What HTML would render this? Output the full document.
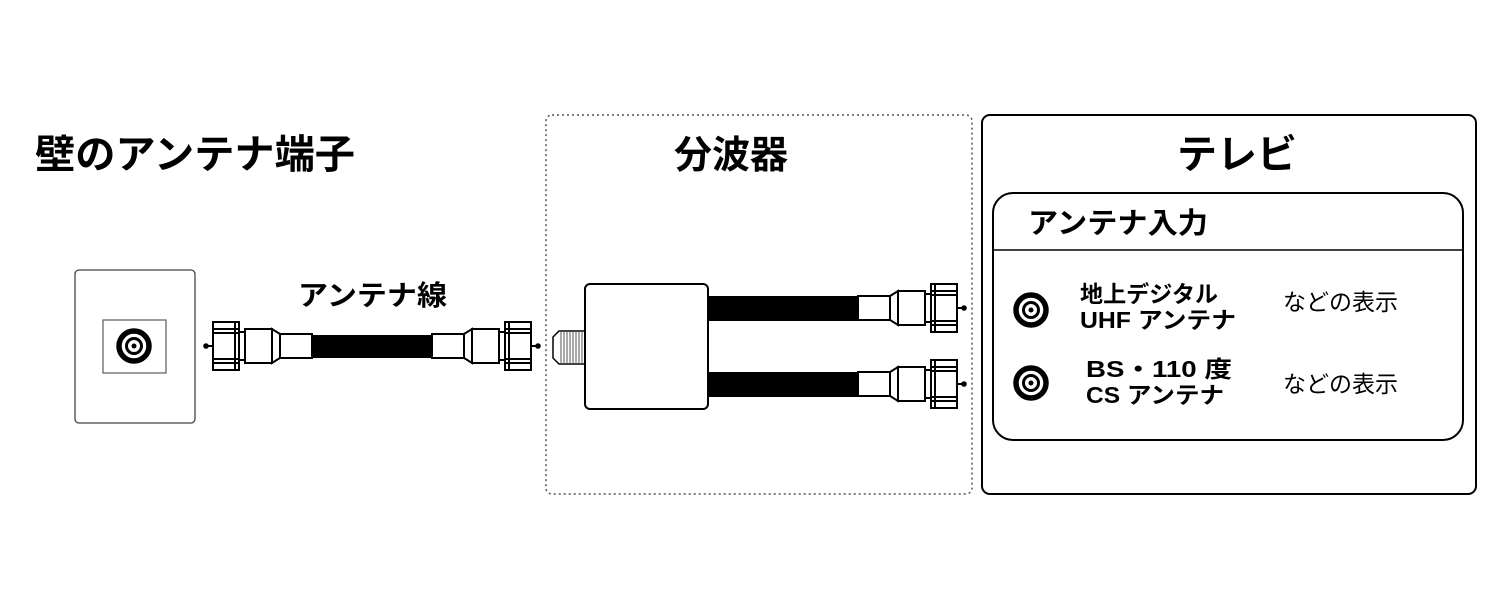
<!DOCTYPE html>
<html><head><meta charset="utf-8"><style>
html,body{margin:0;padding:0;background:#fff;width:1500px;height:600px;overflow:hidden}
svg{display:block}
text{font-family:"Liberation Sans","Noto Sans CJK JP",sans-serif;fill:#000}
.b{font-weight:bold}
</style></head><body>
<svg width="1500" height="600" viewBox="0 0 1500 600" xmlns="http://www.w3.org/2000/svg">
<defs>
<g id="conn" stroke="#000" stroke-width="2" fill="#fff">
  <rect x="0" y="-12" width="32" height="24"/>
  <polygon points="32,-12 40,-17 40,17 32,12"/>
  <rect x="40" y="-17" width="27" height="34"/>
  <rect x="67" y="-14" width="6" height="28"/>
  <rect x="73" y="-24" width="26" height="48"/>
  <line x1="73" y1="-17" x2="99" y2="-17"/>
  <line x1="73" y1="-13" x2="99" y2="-13"/>
  <line x1="73" y1="13" x2="99" y2="13"/>
  <line x1="73" y1="17" x2="99" y2="17"/>
  <line x1="77" y1="-24" x2="77" y2="24"/>
  <line x1="99" y1="0" x2="106" y2="0"/>
  <circle cx="106" cy="0" r="1.8" fill="#000"/>
</g>
<g id="coax">
  <circle r="15" fill="none" stroke="#000" stroke-width="5.5"/>
  <circle r="7.5" fill="none" stroke="#000" stroke-width="3"/>
  <circle r="2.5" fill="#000"/>
</g>
</defs>

<text x="35" y="168" font-size="40" class="b" textLength="320" lengthAdjust="spacingAndGlyphs">壁のアンテナ端子</text>
<text x="731" y="168" font-size="38" class="b" text-anchor="middle">分波器</text>
<text x="1237" y="168" font-size="40" class="b" text-anchor="middle">テレビ</text>

<!-- wall plate -->
<rect x="75" y="270" width="120" height="153" rx="4" fill="#fff" stroke="#444" stroke-width="1.3"/>
<rect x="103" y="320" width="63" height="53" fill="#fff" stroke="#666" stroke-width="1.3"/>
<use href="#coax" x="134" y="346"/>

<!-- antenna cable -->
<text x="298" y="305" font-size="28" class="b" textLength="149" lengthAdjust="spacingAndGlyphs">アンテナ線</text>
<rect x="312" y="335" width="120" height="23" fill="#000"/>
<use href="#conn" transform="translate(312,346) scale(-1,1)"/>
<use href="#conn" transform="translate(432,346)"/>

<!-- splitter -->
<rect x="546" y="115" width="426" height="379" rx="6" fill="none" stroke="#555" stroke-width="1.5" stroke-dasharray="2,3"/>
<rect x="708" y="296" width="152" height="25" fill="#000"/>
<rect x="708" y="372" width="152" height="25" fill="#000"/>
<polygon points="559,331 585,331 585,364 559,364 553,358 553,337" fill="#fff" stroke="#000" stroke-width="1.5"/>
<g stroke="#555" stroke-width="1">
<line x1="561" y1="331" x2="561" y2="364"/><line x1="564" y1="331" x2="564" y2="364"/><line x1="567" y1="331" x2="567" y2="364"/><line x1="570" y1="331" x2="570" y2="364"/><line x1="573" y1="331" x2="573" y2="364"/><line x1="576" y1="331" x2="576" y2="364"/><line x1="579" y1="331" x2="579" y2="364"/><line x1="582" y1="331" x2="582" y2="364"/>
</g>
<rect x="585" y="284" width="123" height="125" rx="5" fill="#fff" stroke="#000" stroke-width="2"/>
<use href="#conn" transform="translate(858,308)"/>
<use href="#conn" transform="translate(858,384)"/>

<!-- TV -->
<rect x="982" y="115" width="494" height="379" rx="8" fill="none" stroke="#000" stroke-width="2"/>
<rect x="993" y="193" width="470" height="247" rx="20" fill="none" stroke="#000" stroke-width="2"/>
<line x1="993" y1="250" x2="1463" y2="250" stroke="#000" stroke-width="1.5"/>
<text x="1028" y="233" font-size="29" class="b" textLength="180" lengthAdjust="spacingAndGlyphs">アンテナ入力</text>

<use href="#coax" x="1031" y="310"/>
<use href="#coax" x="1031" y="383"/>
<text x="1080" y="302" font-size="23" class="b" textLength="138" lengthAdjust="spacingAndGlyphs">地上デジタル</text>
<text x="1080" y="328" font-size="23" class="b" textLength="156" lengthAdjust="spacingAndGlyphs">UHF アンテナ</text>
<text x="1086" y="377" font-size="23" class="b" textLength="146" lengthAdjust="spacingAndGlyphs">BS・110 度</text>
<text x="1086" y="403" font-size="23" class="b" textLength="138" lengthAdjust="spacingAndGlyphs">CS アンテナ</text>
<text x="1283" y="310" font-size="23" textLength="115" lengthAdjust="spacingAndGlyphs">などの表示</text>
<text x="1283" y="392" font-size="23" textLength="115" lengthAdjust="spacingAndGlyphs">などの表示</text>
</svg>
</body></html>
